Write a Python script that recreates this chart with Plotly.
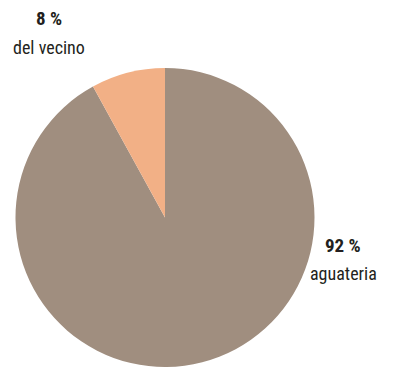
import plotly.graph_objects as go

# Share of water supply by source
labels = ["aguateria", "del vecino"]
values = [92, 8]
colors = ["#A08E7F", "#F2B086"]

W, H = 406, 367

fig = go.Figure(go.Pie(
    labels=labels,
    values=values,
    sort=False,
    direction="clockwise",
    rotation=0,
    marker=dict(colors=colors, line=dict(width=0)),
    textinfo="none",
    hoverinfo="label+percent",
    showlegend=False,
    domain=dict(x=[15 / W, 315 / W], y=[0, 299 / H]),
))

font_family = "Liberation Sans Narrow, Roboto Condensed, Arial Narrow, sans-serif"
# (x, y of percent line, y of name line) in pixels from top-left
label_pos = {"del vecino": (49, 18, 47), "aguateria": (343, 245, 273)}
for lab, val in zip(labels, values):
    x, y1, y2 = label_pos[lab]
    fig.add_annotation(
        x=x / W, y=1 - y1 / H, xref="paper", yref="paper",
        xanchor="center", yanchor="middle",
        text=f"<b>{val} %</b>", showarrow=False,
        font=dict(family=font_family, size=19, color="#231F20"),
    )
    fig.add_annotation(
        x=x / W, y=1 - y2 / H, xref="paper", yref="paper",
        xanchor="center", yanchor="middle",
        text=lab, showarrow=False,
        font=dict(family=font_family, size=18, color="#231F20"),
    )

fig.update_layout(
    width=W, height=H,
    margin=dict(l=0, r=0, t=0, b=0),
    paper_bgcolor="white", plot_bgcolor="white",
)

fig.write_html("out.html")
